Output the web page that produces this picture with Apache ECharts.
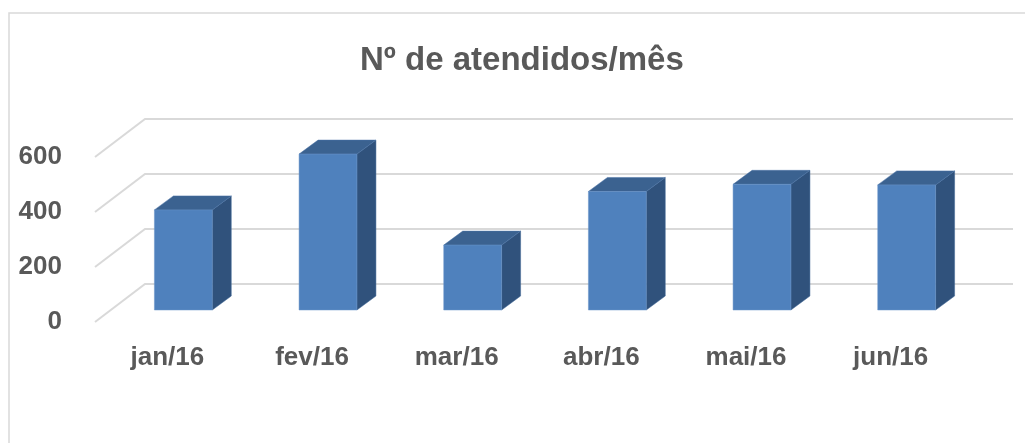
<!DOCTYPE html>
<html>
<head>
<meta charset="utf-8">
<script src="https://cdn.jsdelivr.net/npm/echarts@6/dist/echarts.min.js"></script>
<style>
  html, body { margin: 0; padding: 0; background: #fff; }
  #root { width: 1025px; height: 443px; }
</style>
</head>
<body>
<div id="root"></div>
<script>
const months = ['jan/16', 'fev/16', 'mar/16', 'abr/16', 'mai/16', 'jun/16'];
const atendidos = [364, 567, 236, 431, 457, 455];
const yTicks = [0, 200, 400, 600];

const FONT = '"Liberation Sans", Arial, sans-serif';
const TEXT = '#595959';
const GRID = '#d9d9d9';

// fake 3D offsets (px)
const WALL = [50, -38];   // front plane -> back wall
const FACE = [16, -12];   // front plane -> bar front face
const DEPTH = [19, -14];  // bar depth

const container = document.getElementById('root');
const myChart = echarts.init(container);

const renderWall = (params, api) => {
  const cs = params.coordSys;
  const y = api.coord([0, api.value(0)])[1];
  const x0 = cs.x;
  const x1 = cs.x + cs.width;
  return {
    type: 'polyline',
    shape: {
      points: [[x0, y], [x0 + WALL[0], y + WALL[1]], [x1 + WALL[0], y + WALL[1]]]
    },
    style: { fill: null, stroke: GRID, lineWidth: 2 },
    silent: true
  };
};

const renderBar = (params, api) => {
  const base = api.coord([api.value(0), 0]);
  const top = api.coord([api.value(0), api.value(1)]);
  const w = api.size([1, 0])[0] * 0.4;
  const xl = base[0] + FACE[0] - w / 2;
  const xr = xl + w;
  const yb = base[1] + FACE[1];
  const yt = top[1] + FACE[1];
  const dx = DEPTH[0], dy = DEPTH[1];
  return {
    type: 'group',
    children: [
      {
        type: 'polygon',
        shape: { points: [[xr, yb], [xr, yt], [xr + dx, yt + dy], [xr + dx, yb + dy]] },
        style: { fill: '#30527c', stroke: '#3f6796', lineWidth: 0.5 }
      },
      {
        type: 'polygon',
        shape: { points: [[xl, yt], [xr, yt], [xr + dx, yt + dy], [xl + dx, yt + dy]] },
        style: { fill: '#3b6290', stroke: '#4a73a6', lineWidth: 0.5 }
      },
      {
        type: 'rect',
        shape: { x: xl, y: yt, width: w, height: yb - yt },
        style: { fill: '#4f81bd', stroke: '#6b95c8', lineWidth: 0.5 }
      }
    ]
  };
};

const option = {
  animation: false,
  backgroundColor: '#fff',
  graphic: [{
    type: 'rect',
    shape: { x: 9, y: 13, width: 1030, height: 450 },
    style: { fill: null, stroke: GRID, lineWidth: 1.5 },
    silent: true
  }],
  title: {
    text: 'Nº de atendidos/mês',
    left: 355,
    top: 39,
    textStyle: { fontFamily: FONT, fontSize: 33, fontWeight: 'bold', color: TEXT }
  },
  grid: { left: 95, right: 62, top: 157, bottom: 121 },
  xAxis: {
    type: 'category',
    data: months,
    axisLine: { show: false },
    axisTick: { show: false },
    axisLabel: { margin: 23, fontFamily: FONT, fontSize: 26, fontWeight: 'bold', color: TEXT }
  },
  yAxis: {
    type: 'value',
    min: 0,
    max: 600,
    interval: 200,
    axisLine: { show: false },
    axisTick: { show: false },
    splitLine: { show: false },
    axisLabel: { margin: 33, fontFamily: FONT, fontSize: 26, fontWeight: 'bold', color: TEXT }
  },
  series: [
    {
      type: 'custom',
      name: 'grade',
      renderItem: renderWall,
      data: yTicks.map(v => [v]),
      encode: { y: 0 },
      z: 1
    },
    {
      type: 'custom',
      name: 'Atendidos',
      renderItem: renderBar,
      data: atendidos.map((v, i) => [i, v]),
      encode: { x: 0, y: 1 },
      z: 2
    }
  ]
};

myChart.setOption(option);
window.onresize = () => myChart.resize();
</script>
</body>
</html>
